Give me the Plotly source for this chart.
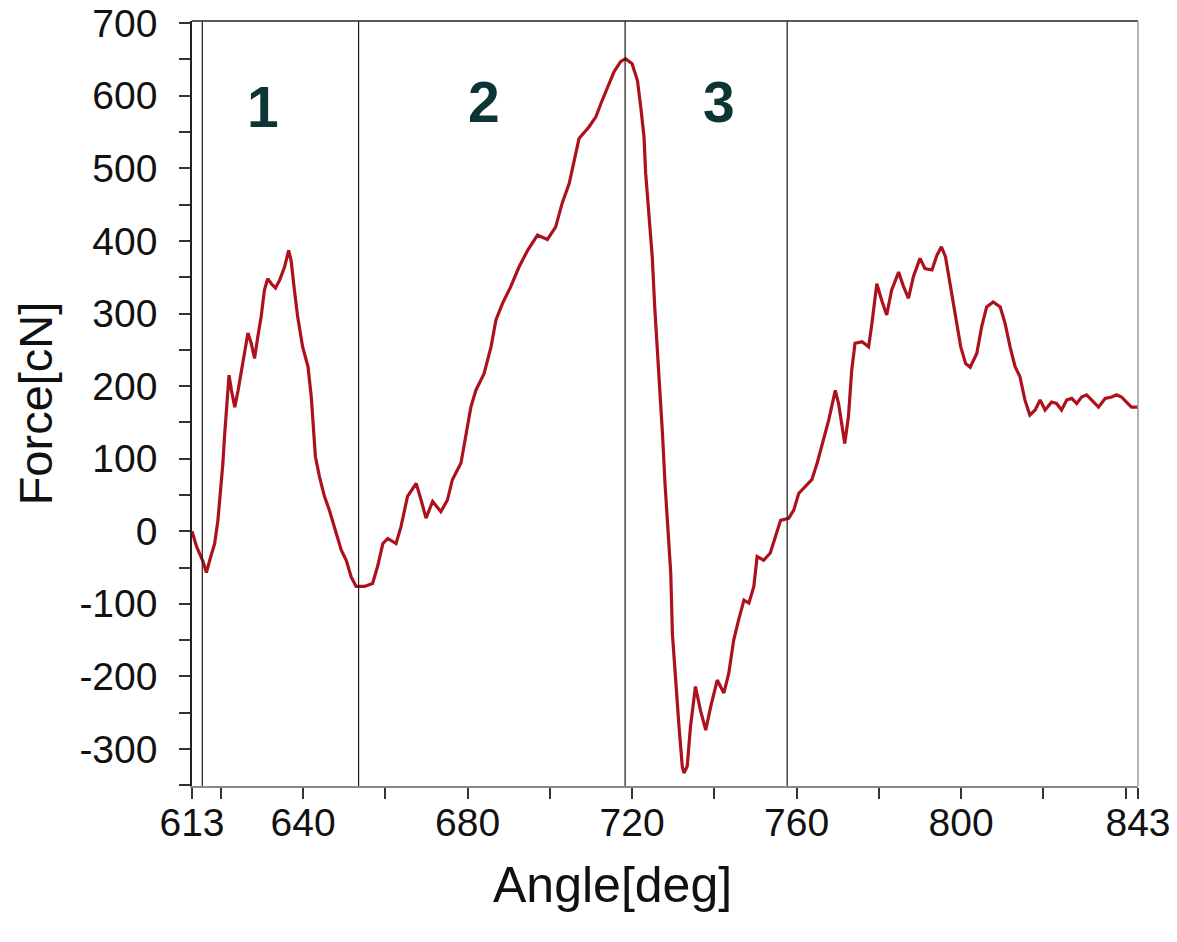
import plotly.graph_objects as go

# ---- data ----
angle = [613.0, 614.1, 615.7, 616.5, 617.3, 618.5, 619.3, 620.1, 620.5, 620.9,
         621.3, 622.0, 622.6, 623.4, 624.2, 625.4, 626.6, 627.4, 628.2, 629.0,
         629.8, 630.6, 631.4, 632.3, 633.3, 634.3, 635.5, 636.5, 637.1, 637.9,
         638.7, 639.9, 641.2, 642.0, 642.4, 643.0, 644.0, 645.2, 646.4, 648.0,
         649.3, 650.5, 651.7, 652.9, 654.9, 656.9, 658.1, 659.4, 660.6, 662.6,
         663.8, 665.4, 667.5, 668.7, 669.9, 671.5, 673.5, 675.1, 676.3, 678.4,
         679.6, 680.8, 682.0, 684.0, 685.7, 686.9, 688.5, 690.5, 692.5, 694.6,
         697.0, 699.4, 701.4, 703.0, 704.7, 705.9, 707.1, 709.5, 711.2, 712.4,
         714.0, 715.6, 717.2, 718.4, 720.0, 721.3, 722.1, 722.9, 723.3, 724.1,
         724.9, 725.5, 726.3, 726.9, 727.4, 728.0, 728.8, 729.4, 729.8, 730.6,
         731.4, 732.2, 732.6, 733.4, 734.2, 735.4, 736.6, 737.9, 739.1, 740.7,
         742.3, 743.5, 744.7, 745.9, 747.2, 748.4, 749.6, 750.4, 752.0, 753.6,
         754.9, 756.1, 758.1, 759.3, 760.5, 762.1, 763.7, 765.0, 766.2, 767.8,
         769.4, 770.2, 771.7, 772.6, 773.4, 774.2, 775.9, 777.5, 778.3, 779.5,
         780.7, 781.9, 783.1, 784.8, 786.0, 787.2, 788.4, 790.0, 791.2, 792.9,
         794.1, 795.2, 796.2, 797.4, 798.6, 799.9, 801.1, 802.2, 803.8, 805.0,
         806.2, 807.8, 809.5, 810.7, 811.9, 813.1, 814.3, 815.5, 816.7, 818.0,
         819.2, 820.4, 822.0, 823.2, 824.4, 825.7, 826.9, 828.1, 829.3, 830.5,
         831.7, 833.4, 835.0, 836.6, 837.8, 839.0, 840.2, 841.4, 843.0]
force = [0, -21, -42, -57, -40, -17, 15, 61, 93, 130,
         167, 215, 194, 171, 194, 231, 273, 259, 238, 268,
         295, 332, 348, 341, 335, 346, 364, 387, 373, 332,
         295, 254, 227, 185, 149, 103, 75, 48, 29, -3,
         -26, -40, -63, -76, -76, -72, -49, -17, -10, -17,
         6, 48, 66, 43, 18, 41, 27, 43, 71, 94,
         135, 171, 194, 217, 254, 291, 314, 337, 364, 387,
         408, 402, 419, 452, 479, 511, 541, 557, 571, 589,
         612, 633, 647, 651, 644, 621, 585, 543, 493, 433,
         378, 309, 240, 181, 133, 66, -3, -58, -141, -210,
         -269, -324, -333, -324, -269, -214, -246, -274, -242, -205,
         -223, -196, -150, -122, -95, -99, -76, -35, -40, -30,
         -8, 15, 18, 29, 52, 61, 71, 94, 121, 153,
         194, 176, 121, 158, 222, 259, 261, 254, 286, 341,
         318, 298, 332, 357, 337, 321, 351, 376, 362, 360,
         380, 392, 378, 337, 295, 254, 231, 226, 245, 282,
         309, 316, 309, 286, 254, 227, 213, 181, 160, 167,
         181, 167, 178, 176, 167, 181, 183, 176, 185, 188,
         181, 171, 183, 185, 188, 185, 178, 171, 171]

phase_bounds = [615.5, 653.5, 718.3, 757.7]
phase_labels = ["1", "2", "3"]
phase_label_x = [630.2, 684.0, 741.1]
phase_label_y = [584, 592, 592]

x_tickvals = [613, 620, 640, 660, 680, 700, 720, 740, 760, 780, 800, 820, 840, 843]
x_ticktext = ["613", "", "640", "", "680", "", "720", "", "760", "", "800", "", "", "843"]
y_tickvals = list(range(-350, 701, 50))
y_ticktext = [("" if v % 100 else str(v)) for v in y_tickvals]

FONT = "Liberation Sans, Arial, sans-serif"

fig = go.Figure()
fig.add_trace(go.Scatter(x=angle, y=force, mode="lines",
                         line=dict(color="#ad111d", width=3.2),
                         showlegend=False, hoverinfo="skip"))

shapes = []
for b in phase_bounds:
    shapes.append(dict(type="line", xref="x", yref="paper", x0=b, x1=b, y0=0, y1=1,
                       line=dict(color="#1a1a1a", width=1.2)))
# top frame (black) and right frame (grey)
shapes.append(dict(type="line", xref="paper", yref="paper", x0=0, x1=1, y0=1, y1=1,
                   line=dict(color="#222", width=1.5)))
shapes.append(dict(type="line", xref="paper", yref="paper", x0=1, x1=1, y0=0, y1=1,
                   line=dict(color="#9a9a9a", width=1.5)))

annotations = []
for t, ax_, ay_ in zip(phase_labels, phase_label_x, phase_label_y):
    annotations.append(dict(x=ax_, y=ay_, xref="x", yref="y", text="<b>%s</b>" % t,
                            showarrow=False, font=dict(family=FONT, size=57, color="#0e3535")))
annotations.append(dict(x=0.444, y=-0.129, xref="paper", yref="paper", text="Angle[deg]",
                        showarrow=False, xanchor="center", yanchor="middle",
                        font=dict(family=FONT, size=50, color="#111")))

fig.update_layout(
    width=1177, height=942,
    margin=dict(l=192, r=39, t=21, b=156),
    paper_bgcolor="white", plot_bgcolor="white",
    shapes=shapes, annotations=annotations,
    font=dict(family=FONT, color="#111"),
    xaxis=dict(range=[613, 843], showgrid=False, zeroline=False, automargin=False,
               showline=True, linecolor="#8a8a8a", linewidth=1.5,
               tickmode="array", tickvals=x_tickvals, ticktext=x_ticktext,
               ticks="outside", ticklen=11, tickwidth=1.5, tickcolor="#333",
               tickfont=dict(family=FONT, size=39, color="#111"),
               ticklabelstandoff=-10),
    yaxis=dict(range=[-351, 703], showgrid=False, zeroline=False, automargin=False,
               showline=True, linecolor="#222", linewidth=1.5,
               tickmode="array", tickvals=y_tickvals, ticktext=y_ticktext,
               ticks="outside", ticklen=11, tickwidth=1.5, tickcolor="#333",
               tickfont=dict(family=FONT, size=39, color="#111"),
               ticklabelstandoff=14,
               title=dict(text="Force[cN]", font=dict(family=FONT, size=47, color="#111"),
                          standoff=12)),
)

fig.write_html("out.html")
